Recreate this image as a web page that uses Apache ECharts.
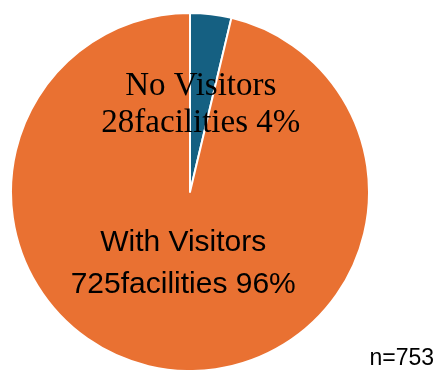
<!DOCTYPE html>
<html>
<head>
<meta charset="utf-8">
<script src="https://cdn.jsdelivr.net/npm/echarts@6/dist/echarts.min.js"></script>
<style>html,body{margin:0;padding:0;background:#fff}#c{width:441px;height:370px}</style>
</head>
<body>
<div id="c"></div>
<script>
const categories = ['No Visitors', 'With Visitors'];
const values = [28, 725];
const colors = ['#156082', '#E97132'];
const totalLabel = 'n=753';

const chart = echarts.init(document.getElementById('c'), null, {renderer: 'canvas'});
const fmt = p => p.name + '\n' + p.value + 'facilities ' + Math.round(p.percent) + '%';
chart.setOption({
  animation: false,
  title: {
    text: totalLabel, right: 2, bottom: -5,
    textStyle: {fontFamily: 'Liberation Sans', fontSize: 23, fontWeight: 'normal', color: '#000'}
  },
  series: [{
    type: 'pie',
    center: [190, 192],
    radius: 179,
    startAngle: 90,
    clockwise: true,
    labelLine: {show: false},
    itemStyle: {borderColor: '#fff', borderWidth: 2},
    data: categories.map((c, i) => ({
      name: c, value: values[i],
      itemStyle: {color: colors[i]},
      label: i === 0 ? {
        show: true, position: 'inside', formatter: fmt, offset: [0, 5],
        fontFamily: 'Liberation Serif', fontSize: 33, lineHeight: 37, color: '#000'
      } : {
        show: true, position: 'inside', formatter: fmt, offset: [4, -20],
        fontFamily: 'Liberation Sans', fontSize: 30, lineHeight: 42, color: '#000'
      }
    }))
  }]
});
</script>
</body>
</html>
